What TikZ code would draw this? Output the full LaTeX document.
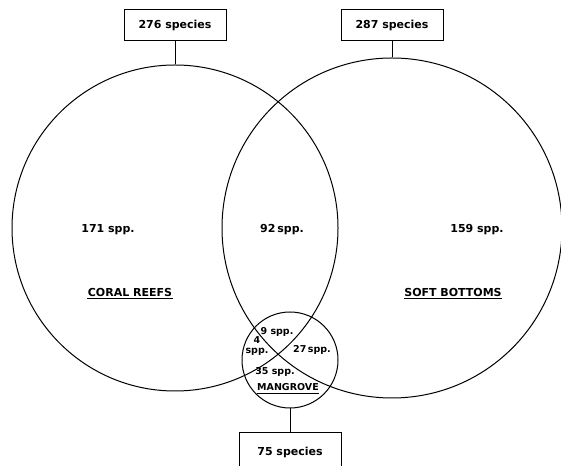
\documentclass[tikz,border=0pt]{standalone}
\usepackage{fontspec}
\setmainfont{DejaVu Sans}
\usepackage{tikz}
\usetikzlibrary{positioning}

\begin{document}
\begin{tikzpicture}[x=1pt,y=1pt,line width=1pt,
    habitat/.style={draw,circle,inner sep=0pt},
    countbox/.style={draw,minimum width=102pt,minimum height=31pt,font=\fontsize{11}{13}\selectfont\bfseries},
    spp/.style={font=\fontsize{11}{13}\selectfont\bfseries,inner sep=0pt},
    sppsmall/.style={font=\fontsize{9.5}{10}\selectfont\bfseries,inner sep=0pt,align=center}]
  \useasboundingbox (0,0) rectangle (561,465);
  % the three habitats
  \node[habitat,minimum size=326pt] (reefs) at (175,237) {};
  \node[habitat,minimum size=340pt] (soft) at (392,237) {};
  \node[habitat,minimum size=96pt] (mangrove) at (290,105) {};
  % totals
  \node[countbox] (reefsbox) at (175,440) {276 species};
  \node[countbox] (softbox) at (392,440) {287 species};
  \node[countbox,minimum height=40pt,anchor=north] (mangrovebox) at (290,33) {75 species};
  \draw (reefsbox) -- (reefs.north);
  \draw (softbox) -- (soft.north);
  \draw (mangrove.south) -- (mangrovebox);
  % counts
  \node[spp] (reefsonly) at (108,235) {171 spp.};
  \node[spp] (reefssoft) at (282,235) {92\,spp.};
  \node[spp] (softonly) at (477,235) {159 spp.};
  \node[sppsmall] (allthree) at (277,133) {9 spp.};
  \node[sppsmall] (reefsmang) at (257,119) {4\\spp.};
  \node[sppsmall] (softmang) at (312,115) {27\,spp.};
  \node[sppsmall] (mangonly) at (275,93) {35 spp.};
  % habitat names
  \node[spp] (reefslbl) at (130,173) {CORAL REEFS};
  \draw ([yshift=-2pt]reefslbl.south west) -- ([yshift=-2pt]reefslbl.south east);
  \node[spp] (softlbl) at (453,173) {SOFT BOTTOMS};
  \draw ([yshift=-2pt]softlbl.south west) -- ([yshift=-2pt]softlbl.south east);
  \node[sppsmall] (manglbl) at (288,78) {MANGROVE};
  \draw ([yshift=-2pt]manglbl.south west) -- ([yshift=-2pt]manglbl.south east);
\end{tikzpicture}
\end{document}
